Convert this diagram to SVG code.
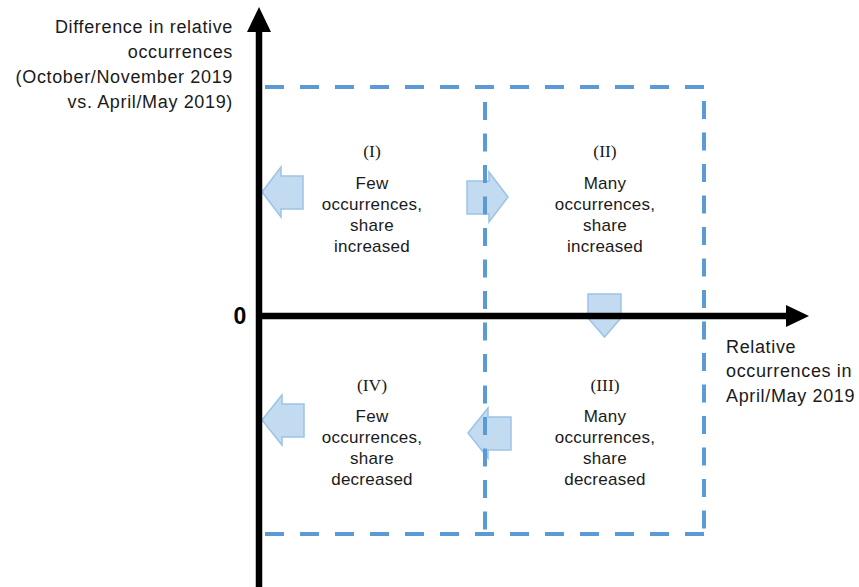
<svg xmlns="http://www.w3.org/2000/svg" width="859" height="587" viewBox="0 0 859 587">
<style>
.lbl{font-family:"Liberation Sans",Arial,sans-serif;font-size:18px;letter-spacing:0.65px;fill:#1a1a1a}
.q{font-family:"Liberation Sans",Arial,sans-serif;font-size:17px;letter-spacing:0.25px;fill:#1a1a1a;text-anchor:middle}
.qn{font-family:"Liberation Serif","Times New Roman",serif;font-size:17.5px;fill:#1a1a1a;text-anchor:middle}
.zero{font-family:"Liberation Sans",Arial,sans-serif;font-size:23px;font-weight:bold;fill:#000;text-anchor:middle}
.h{fill:none;stroke:#5B9BD5;stroke-width:4;stroke-dasharray:19 16}
.v{fill:none;stroke:#5B9BD5;stroke-width:4;stroke-dasharray:18 13.5}
.arr{fill:#BDD7EE;fill-opacity:0.9;stroke:#9DC3E6;stroke-width:1.5;stroke-linejoin:miter}
.axis{stroke:#000;stroke-width:6.5;fill:none}
</style>
<rect width="859" height="587" fill="#fff"/>
<g id="arrows">
<polygon class="arr" points="262,192 281,167 281,176 303,176 303,209 281,209 281,217"/>
<polygon class="arr" points="508,197 489,172 489,181 467,181 467,214 489,214 489,222"/>
<polygon class="arr" points="588,294 621,294 621,318 604.5,337 588,318"/>
<polygon class="arr" points="468,433 488,408 488,417 511,417 511,450 488,450 488,458"/>
<polygon class="arr" points="262,420 282,395 282,404 304,404 304,437 282,437 282,445"/>
</g>
<g id="grid">
<path class="h" d="M265,87 H705"/>
<path class="h" d="M265,534 H705"/>
<path class="v" d="M704,101 V534"/>
<path class="v" d="M485,102 V534"/>
</g>
<g id="axes">
<path class="axis" d="M259,587 V30"/>
<polygon points="259,7 247,32 271,32" fill="#000"/>
<path class="axis" d="M256,316 H788"/>
<polygon points="809,316 786,305 786,327" fill="#000"/>
</g>
<g id="y-label">
<text class="lbl" text-anchor="end" x="233" y="33">Difference in relative</text>
<text class="lbl" text-anchor="end" x="233" y="58">occurrences</text>
<text class="lbl" text-anchor="end" x="233" y="83">(October/November 2019</text>
<text class="lbl" text-anchor="end" x="233" y="108">vs. April/May 2019)</text>
</g>
<g id="x-label">
<text class="lbl" x="726" y="353">Relative</text>
<text class="lbl" x="726" y="377">occurrences in</text>
<text class="lbl" x="726" y="402">April/May 2019</text>
</g>
<text class="zero" x="240" y="324">0</text>
<g id="q1">
<text class="qn" x="372" y="157">(I)</text>
<text class="q" x="372" y="189">Few</text>
<text class="q" x="372" y="210">occurrences,</text>
<text class="q" x="372" y="231">share</text>
<text class="q" x="372" y="252">increased</text>
</g>
<g id="q2">
<text class="qn" x="605" y="157">(II)</text>
<text class="q" x="605" y="189">Many</text>
<text class="q" x="605" y="210">occurrences,</text>
<text class="q" x="605" y="231">share</text>
<text class="q" x="605" y="252">increased</text>
</g>
<g id="q4">
<text class="qn" x="372" y="391">(IV)</text>
<text class="q" x="372" y="422">Few</text>
<text class="q" x="372" y="443">occurrences,</text>
<text class="q" x="372" y="464">share</text>
<text class="q" x="372" y="485">decreased</text>
</g>
<g id="q3">
<text class="qn" x="605" y="391">(III)</text>
<text class="q" x="605" y="422">Many</text>
<text class="q" x="605" y="443">occurrences,</text>
<text class="q" x="605" y="464">share</text>
<text class="q" x="605" y="485">decreased</text>
</g>
</svg>
